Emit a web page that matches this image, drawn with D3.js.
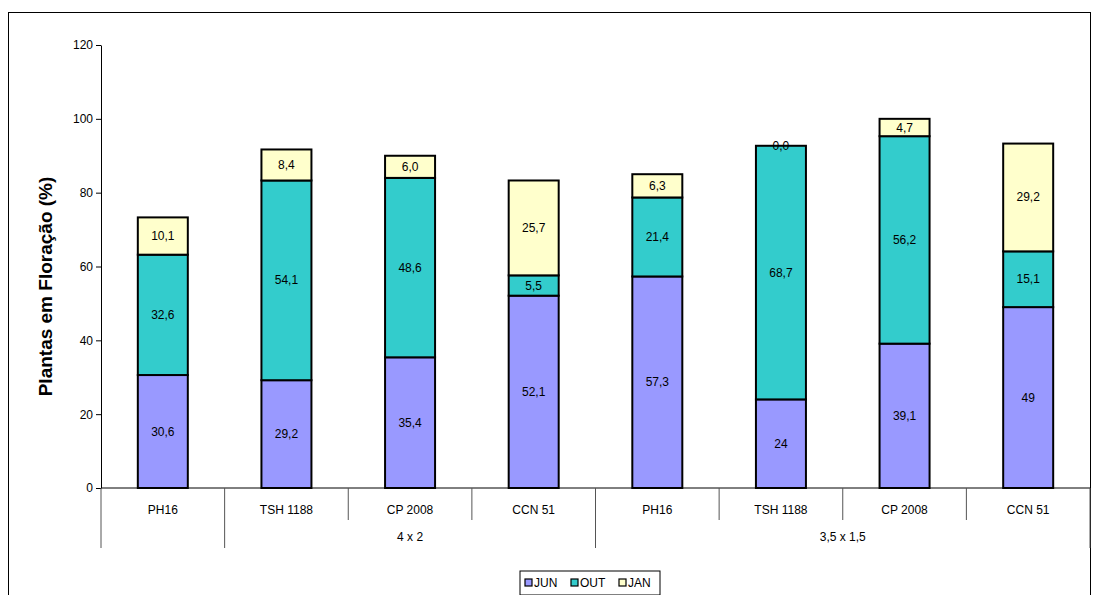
<!DOCTYPE html>
<html><head><meta charset="utf-8">
<script src="https://cdn.jsdelivr.net/npm/d3@7"></script>
<style>body{margin:0;background:#fff;font-family:"Liberation Sans",Arial,sans-serif}</style>
</head><body><div id="chart"></div>
<script>
var categories = ["PH16","TSH 1188","CP 2008","CCN 51","PH16","TSH 1188","CP 2008","CCN 51"];
var groups = [{name:"4 x 2", from:1, to:4}, {name:"3,5 x 1,5", from:4, to:8}];
var series = ["JUN","OUT","JAN"];
var jun = [30.6, 29.2, 35.4, 52.1, 57.3, 24, 39.1, 49];
var out = [32.6, 54.1, 48.6, 5.5, 21.4, 68.7, 56.2, 15.1];
var jan = [10.1, 8.4, 6.0, 25.7, 6.3, 0.0, 4.7, 29.2];
var junLabels = ["30,6","29,2","35,4","52,1","57,3","24","39,1","49"];
var outLabels = ["32,6","54,1","48,6","5,5","21,4","68,7","56,2","15,1"];
var janLabels = ["10,1","8,4","6,0","25,7","6,3","0,0","4,7","29,2"];
var yTicks = [0,20,40,60,80,100,120];
var colors = ["#9999ff","#33cccc","#ffffcc"];

var W = 1096, H = 595;
var svg = d3.select("#chart").append("svg").attr("width", W).attr("height", H);
svg.append("rect").attr("x",8.5).attr("y",12.5).attr("width",1082).attr("height",600)
    .attr("fill","none").attr("stroke","#000").attr("stroke-width",1);

var mLeft = 101, mRight = 1090, mTop = 45, mBottom = 488;
var x = d3.scaleBand().domain(d3.range(categories.length)).range([mLeft, mRight]).paddingInner(0).paddingOuter(0);
var y = d3.scaleLinear().domain([0,120]).range([mBottom, mTop]);

var yAxis = svg.append("g").attr("transform","translate(" + mLeft + ",0)")
    .call(d3.axisLeft(y).tickValues(yTicks).tickSize(5).tickSizeOuter(0));
yAxis.selectAll("text").style("font-size","12px").style("font-family","Liberation Sans").attr("fill","#000");
yAxis.selectAll("line,path").attr("stroke","#000");

svg.append("text")
    .attr("transform","translate(52," + ((mTop+mBottom)/2 + 20) + ") rotate(-90)")
    .attr("text-anchor","middle").style("font-size","19px").style("font-weight","bold")
    .text("Plantas em Floração (%)");

svg.append("line").attr("x1",mLeft).attr("x2",mRight).attr("y1",mBottom).attr("y2",mBottom).attr("stroke","#000");

var rows = categories.map(function(c,i){ return {i:i, JUN:jun[i], OUT:out[i], JAN:jan[i]}; });
var labels = [junLabels, outLabels, janLabels];
var stack = d3.stack().keys(series)(rows);
var bw = 50;

stack.forEach(function(layer, k){
  svg.append("g").selectAll("rect").data(layer).enter().append("rect")
    .attr("x", function(d){ return x(d.data.i) + x.bandwidth()/2 - bw/2; })
    .attr("y", function(d){ return y(d[1]); })
    .attr("width", bw)
    .attr("height", function(d){ return y(d[0]) - y(d[1]); })
    .attr("fill", colors[k]).attr("stroke","#000").attr("stroke-width",2);
});
stack.forEach(function(layer, k){
  svg.append("g").selectAll("text").data(layer).enter().append("text")
    .attr("x", function(d){ return x(d.data.i) + x.bandwidth()/2; })
    .attr("y", function(d){ return y((d[0]+d[1])/2) + 4; })
    .attr("text-anchor","middle").style("font-size","12px")
    .text(function(d, j){ return labels[k][j]; });
});

categories.forEach(function(c,i){
  svg.append("text").attr("x", x(i) + x.bandwidth()/2).attr("y", 514)
    .attr("text-anchor","middle").style("font-size","12px").text(c);
});
d3.range(categories.length + 1).forEach(function(i){
  var xx = i < categories.length ? x(i) : mRight;
  var isLong = i === 0 || groups.some(function(g){ return g.from === i || g.to === i; });
  svg.append("line").attr("x1",xx).attr("x2",xx).attr("y1",mBottom).attr("y2", isLong ? 548 : 520)
    .attr("stroke","#555");
});
groups.forEach(function(g){
  var gx0 = x(g.from), gx1 = g.to < categories.length ? x(g.to) : mRight;
  svg.append("text").attr("x",(gx0+gx1)/2).attr("y",541).attr("text-anchor","middle")
    .style("font-size","12px").text(g.name);
});

var lg = svg.append("g").attr("transform","translate(520,571)");
lg.append("rect").attr("width",140).attr("height",24).attr("fill","#fff").attr("stroke","#000");
var lx = [5, 51, 99];
series.forEach(function(s,k){
  lg.append("rect").attr("x",lx[k]).attr("y",8).attr("width",7).attr("height",7)
    .attr("fill",colors[k]).attr("stroke","#000").attr("stroke-width",1.2);
  lg.append("text").attr("x",lx[k]+9).attr("y",16).style("font-size","12px").text(s);
});
</script></body></html>
